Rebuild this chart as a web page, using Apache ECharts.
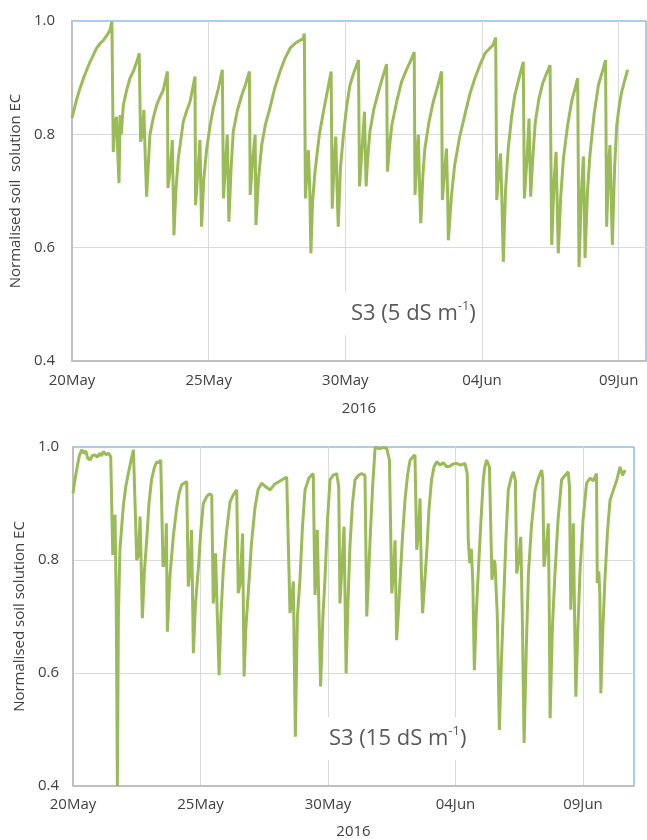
<!DOCTYPE html>
<html lang="en">
<head>
<meta charset="UTF-8">
<title>Normalised soil solution EC</title>
<script src="https://cdn.jsdelivr.net/npm/echarts@6/dist/echarts.min.js"></script>
<style>
  html, body { margin: 0; padding: 0; background: #fff; }
  #chart { width: 647px; height: 840px; }
</style>
</head>
<body>
<div id="chart"></div>
<script>
// time is in days since 20 May 2016 00:00
var topDays = [0.00,0.15,0.29,0.45,0.66,0.80,0.90,1.02,1.15,1.28,1.39,1.46,1.51,1.57,1.63,1.68,1.72,1.76,1.80,1.88,
  2.00,2.12,2.25,2.37,2.46,2.51,2.57,2.63,2.68,2.73,2.85,2.97,3.10,3.22,3.34,3.49,3.51,3.60,3.67,3.73,
  3.80,3.89,4.07,4.20,4.32,4.50,4.52,4.60,4.68,4.74,4.82,4.93,5.05,5.17,5.35,5.50,5.54,5.62,5.68,5.74,
  5.82,5.90,6.05,6.21,6.35,6.49,6.52,6.62,6.70,6.73,6.82,6.94,7.08,7.24,7.42,7.61,7.80,7.98,8.20,8.46,
  8.50,8.54,8.60,8.65,8.70,8.74,8.80,8.89,9.05,9.20,9.35,9.48,9.52,9.60,9.65,9.70,9.74,9.82,9.93,10.05,
  10.17,10.32,10.48,10.52,10.62,10.70,10.76,10.82,10.90,11.05,11.21,11.36,11.51,11.54,11.62,11.70,11.88,12.06,12.22,12.37,
  12.52,12.55,12.62,12.67,12.72,12.76,12.84,12.91,13.06,13.22,13.38,13.52,13.55,13.64,13.70,13.74,13.77,13.88,14.00,14.18,
  14.37,14.55,14.74,14.92,15.11,15.25,15.41,15.50,15.54,15.62,15.68,15.73,15.78,15.86,15.96,16.08,16.20,16.36,16.51,16.55,
  16.65,16.72,16.78,16.86,16.95,17.08,17.22,17.35,17.49,17.55,17.64,17.71,17.75,17.79,17.88,17.98,18.13,18.28,18.40,18.50,
  18.55,18.64,18.71,18.74,18.77,18.86,18.95,19.10,19.26,19.40,19.52,19.56,19.63,19.68,19.72,19.77,19.85,19.93,20.02,20.11,
  20.22,20.33];
var topEC = [0.829,0.858,0.881,0.903,0.928,0.942,0.952,0.960,0.966,0.975,0.984,0.999,0.769,0.820,0.831,0.760,0.714,0.834,0.800,0.852,
  0.878,0.899,0.912,0.928,0.943,0.787,0.800,0.843,0.760,0.690,0.799,0.828,0.852,0.866,0.878,0.911,0.705,0.740,0.790,0.622,
  0.700,0.758,0.822,0.842,0.858,0.902,0.675,0.730,0.790,0.637,0.720,0.775,0.815,0.846,0.880,0.914,0.687,0.750,0.799,0.646,
  0.740,0.805,0.842,0.869,0.888,0.911,0.693,0.760,0.799,0.640,0.720,0.781,0.818,0.846,0.882,0.911,0.935,0.952,0.962,0.969,
  0.978,0.687,0.740,0.772,0.700,0.590,0.680,0.734,0.800,0.840,0.878,0.911,0.669,0.760,0.796,0.700,0.637,0.740,0.799,0.850,
  0.887,0.910,0.931,0.708,0.780,0.840,0.708,0.760,0.805,0.846,0.875,0.900,0.924,0.734,0.780,0.816,0.858,0.893,0.912,0.928,
  0.945,0.693,0.760,0.799,0.700,0.643,0.730,0.775,0.822,0.858,0.885,0.911,0.684,0.740,0.775,0.700,0.613,0.690,0.746,0.795,
  0.834,0.870,0.899,0.922,0.943,0.950,0.958,0.971,0.684,0.740,0.766,0.680,0.575,0.700,0.775,0.830,0.869,0.900,0.928,0.687,
  0.760,0.828,0.690,0.760,0.822,0.862,0.890,0.906,0.922,0.605,0.720,0.769,0.680,0.590,0.690,0.758,0.815,0.858,0.880,0.899,
  0.566,0.700,0.761,0.680,0.582,0.700,0.764,0.835,0.887,0.910,0.931,0.637,0.740,0.781,0.700,0.605,0.740,0.816,0.850,0.875,
  0.895,0.914];

var botDays = [0.00,0.07,0.14,0.25,0.34,0.42,0.50,0.58,0.67,0.76,0.86,0.95,1.06,1.12,1.19,1.30,1.39,1.48,1.52,1.56,
  1.61,1.65,1.70,1.74,1.78,1.84,1.97,2.07,2.17,2.27,2.37,2.43,2.50,2.57,2.63,2.68,2.72,2.80,2.89,2.98,
  3.08,3.18,3.28,3.36,3.44,3.53,3.62,3.66,3.70,3.80,3.93,4.07,4.16,4.26,4.36,4.46,4.52,4.58,4.65,4.72,
  4.80,4.92,5.01,5.11,5.24,5.34,5.44,5.50,5.55,5.59,5.66,5.73,5.80,5.90,6.02,6.16,6.28,6.42,6.48,6.56,
  6.65,6.71,6.78,6.88,7.00,7.14,7.26,7.40,7.55,7.73,7.90,8.05,8.20,8.38,8.44,8.51,8.58,8.64,8.72,8.80,
  8.90,9.00,9.10,9.25,9.42,9.49,9.54,9.58,9.65,9.71,9.80,9.88,9.98,10.08,10.20,10.34,10.42,10.47,10.55,10.63,
  10.71,10.78,10.86,10.96,11.06,11.20,11.32,11.45,11.52,11.58,11.65,11.75,11.85,12.00,12.15,12.30,12.41,12.50,12.57,12.63,
  12.69,12.75,12.82,12.92,13.02,13.12,13.22,13.32,13.41,13.48,13.55,13.61,13.66,13.71,13.79,13.87,13.96,14.06,14.16,14.26,
  14.40,14.52,14.65,14.78,14.90,15.04,15.20,15.37,15.46,15.50,15.56,15.62,15.68,15.74,15.81,15.89,16.00,16.09,16.15,16.22,
  16.33,16.43,16.50,16.55,16.64,16.72,16.80,16.88,16.98,17.07,17.18,17.27,17.35,17.40,17.48,17.56,17.62,17.69,17.78,17.86,
  17.98,18.12,18.25,18.38,18.42,18.47,18.55,18.64,18.68,18.71,18.80,18.90,19.02,19.16,19.30,19.42,19.47,19.52,19.57,19.62,
  19.67,19.72,19.80,19.88,20.00,20.14,20.28,20.40,20.53,20.56,20.62,20.66,20.70,20.78,20.86,20.96,21.06,21.20,21.33,21.45,
  21.55,21.65];
var botEC = [0.918,0.940,0.959,0.985,0.995,0.989,0.993,0.980,0.977,0.985,0.986,0.982,0.989,0.984,0.992,0.986,0.989,0.983,0.894,0.809,
  0.840,0.880,0.700,0.400,0.700,0.818,0.894,0.930,0.953,0.975,0.995,0.998,0.800,0.810,0.877,0.780,0.697,0.780,0.835,0.900,
  0.942,0.962,0.974,0.972,0.977,0.788,0.800,0.865,0.673,0.770,0.840,0.894,0.918,0.933,0.936,0.939,0.753,0.780,0.853,0.635,
  0.720,0.788,0.850,0.900,0.912,0.917,0.915,0.723,0.760,0.812,0.700,0.596,0.700,0.788,0.850,0.903,0.915,0.924,0.741,0.760,
  0.847,0.594,0.680,0.747,0.830,0.894,0.925,0.936,0.930,0.924,0.934,0.938,0.942,0.947,0.945,0.706,0.730,0.762,0.487,0.700,
  0.765,0.860,0.924,0.945,0.953,0.738,0.780,0.853,0.700,0.576,0.700,0.765,0.870,0.942,0.950,0.953,0.930,0.723,0.790,0.859,
  0.599,0.720,0.824,0.900,0.942,0.950,0.953,0.950,0.700,0.760,0.835,0.930,1.000,0.997,0.999,0.998,0.977,0.741,0.780,0.835,
  0.658,0.700,0.759,0.840,0.906,0.950,0.977,0.982,0.986,0.818,0.850,0.909,0.780,0.706,0.760,0.812,0.890,0.942,0.965,0.974,
  0.968,0.972,0.965,0.966,0.970,0.971,0.968,0.971,0.953,0.835,0.794,0.820,0.760,0.605,0.700,0.776,0.870,0.942,0.965,0.977,
  0.965,0.765,0.800,0.794,0.700,0.499,0.620,0.717,0.840,0.924,0.945,0.956,0.940,0.776,0.800,0.841,0.700,0.476,0.650,0.776,
  0.860,0.924,0.945,0.959,0.945,0.788,0.820,0.865,0.700,0.520,0.680,0.776,0.870,0.942,0.950,0.956,0.930,0.712,0.780,0.865,
  0.700,0.558,0.680,0.776,0.870,0.936,0.945,0.940,0.953,0.759,0.780,0.740,0.564,0.680,0.765,0.850,0.906,0.925,0.942,0.965,
  0.950,0.959];

var tickDays = [0, 5, 10, 15, 20];
var tickLabels = ['20May', '25May', '30May', '04Jun', '09Jun'];

var textColor = '#404040';
var font = 'Open Sans';

function pairs(xs, ys) {
  return xs.map(function (x, i) { return [x, ys[i]]; });
}

function xAxisFor(idx, max, gap, margin) {
  return {
    type: 'value', gridIndex: idx, min: 0, max: max, interval: 5,
    name: '2016', nameLocation: 'middle', nameGap: gap,
    nameTextStyle: { color: textColor, fontSize: 15, fontFamily: font },
    axisLine: { show: true, lineStyle: { color: '#bfbfbf', width: 2 } },
    axisTick: { show: false },
    axisLabel: {
      margin: margin, color: textColor, fontSize: 15, fontFamily: font,
      showMaxLabel: false,
      formatter: function (v) {
        var i = tickDays.indexOf(v);
        return i < 0 ? '' : tickLabels[i];
      }
    },
    splitLine: { show: true, showMinLine: false, showMaxLine: false,
      lineStyle: { color: '#d9d9d9', width: 1 } }
  };
}

function yAxisFor(idx, title, gap, margin) {
  return {
    type: 'value', gridIndex: idx, min: 0.4, max: 1.0, interval: 0.2,
    name: title, nameLocation: 'middle', nameGap: gap, nameRotate: 90,
    nameTextStyle: { color: textColor, fontSize: 15, fontFamily: font },
    axisLine: { show: true, lineStyle: { color: '#bfbfbf', width: 2 } },
    axisTick: { show: false },
    axisLabel: {
      margin: margin, color: textColor, fontSize: 15, fontFamily: font,
      formatter: function (v) { return v.toFixed(1); }
    },
    splitLine: { show: true, showMinLine: false, showMaxLine: false,
      lineStyle: { color: '#d9d9d9', width: 1 } }
  };
}

function label(text, left, top) {
  return {
    type: 'text', left: left, top: top, z: 100,
    style: {
      text: text,
      backgroundColor: '#ffffff',
      padding: [8, 6, 8, 6],
      rich: {
        a: { fontSize: 22, fontFamily: font, fill: '#595959', lineHeight: 27 },
        s: { fontSize: 13, fontFamily: font, fill: '#595959', lineHeight: 15, verticalAlign: 'top' }
      }
    }
  };
}

var chart = echarts.init(document.getElementById('chart'));
chart.setOption({
  animation: false,
  backgroundColor: '#ffffff',
  grid: [
    { left: 72, top: 21, width: 574, height: 340, show: true,
      borderColor: '#5b9bd5', borderWidth: 1, backgroundColor: 'transparent' },
    { left: 73, top: 447, width: 561, height: 339, show: true,
      borderColor: '#5b9bd5', borderWidth: 1, backgroundColor: 'transparent' }
  ],
  xAxis: [
    xAxisFor(0, 21, 40, 12),
    xAxisFor(1, 22, 38, 11)
  ],
  yAxis: [
    yAxisFor(0, 'Normalised soil  solution EC', 42, 17),
    yAxisFor(1, 'Normalised soil solution EC', 38, 14)
  ],
  series: [
    { type: 'line', xAxisIndex: 0, yAxisIndex: 0, data: pairs(topDays, topEC),
      showSymbol: false, lineStyle: { color: '#9bbb59', width: 3 } },
    { type: 'line', xAxisIndex: 1, yAxisIndex: 1, data: pairs(botDays, botEC),
      showSymbol: false, lineStyle: { color: '#9bbb59', width: 3 } }
  ],
  graphic: [
    label('{a|S3 (5 dS m}{s|-1}{a|)}', 345, 292),
    label('{a|S3 (15 dS m}{s|-1}{a|)}', 323, 717)
  ]
});
</script>
</body>
</html>
